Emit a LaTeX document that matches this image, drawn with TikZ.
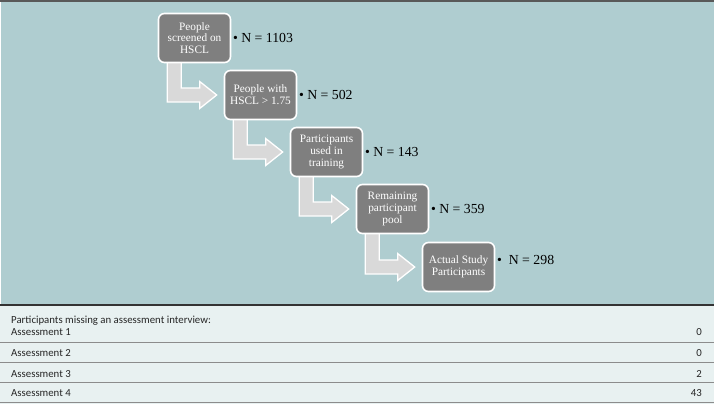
\documentclass[tikz,border=0pt]{standalone}
\usepackage{fontspec}
\setmainfont{Liberation Serif}
\newfontfamily\tablefont{Carlito}
\usetikzlibrary{calc,backgrounds}
\definecolor{tealbg}{HTML}{AFCDD0}
\definecolor{tablebg}{HTML}{E8F1F1}
\definecolor{boxgray}{HTML}{7F7F7F}
\definecolor{arrowgray}{HTML}{D9D9D9}
\definecolor{rulegray}{HTML}{8C8C8C}
\begin{document}
\begin{tikzpicture}[x=1pt,y=-1pt,
  stagebox/.style={draw=white, line width=1.6pt, fill=boxgray, rounded corners=6pt,
    minimum width=72pt, minimum height=49pt, align=center, text=white,
    font=\fontsize{11.3}{11.8}\selectfont, inner sep=0pt},
  nlabel/.style={anchor=west, font=\fontsize{13.8}{15}\selectfont, inner sep=0pt, xshift=1.5pt},
  flowarrow/.style={fill=arrowgray, draw=white, line width=1.3pt, line join=miter},
  rowtext/.style={font=\tablefont\fontsize{10.8}{12}\selectfont, inner sep=0pt, text=black!85},
  tablerule/.style={draw=rulegray, line width=1pt}]
\useasboundingbox (0,0) rectangle (714,404);

% stage boxes
\node[stagebox] (b1) at (194.5,38) {People\\screened on\\HSCL};
\node[stagebox] (b2) at (260.5,95) {People with\\HSCL > 1.75};
\node[stagebox] (b3) at (326.5,152) {Participants\\used in\\training};
\node[stagebox] (b4) at (392.5,209) {Remaining\\participant\\pool};
\node[stagebox] (b5) at (458.5,267) {Actual Study\\Participants};

% counts
\node[nlabel] (n1) at (b1.east) {\textbullet\ N = 1103};
\node[nlabel] (n2) at (b2.east) {\textbullet\ N = 502};
\node[nlabel] (n3) at (b3.east) {\textbullet\ N = 143};
\node[nlabel] (n4) at (b4.east) {\textbullet\ N = 359};
\node[nlabel, yshift=7pt] (n5) at (b5.east) {\textbullet\hspace{7pt}N = 298};

% table text
\node[rowtext, anchor=base west] (hdr) at (11,323.5) {Participants missing an assessment interview:};
\node[rowtext, anchor=base west] (r1) at (11,335.7) {Assessment 1};
\node[rowtext, anchor=base west] (r2) at (11,356.7) {Assessment 2};
\node[rowtext, anchor=base west] (r3) at (11,377.2) {Assessment 3};
\node[rowtext, anchor=base west] (r4) at (11,396.7) {Assessment 4};
\node[rowtext, anchor=base east] (v1) at (702,335.7) {0};
\node[rowtext, anchor=base east] (v2) at (702,356.7) {0};
\node[rowtext, anchor=base east] (v3) at (702,377.2) {2};
\node[rowtext, anchor=base east] (v4) at (702,396.7) {43};

\begin{scope}[on background layer]
  \fill[tealbg] (1,2) rectangle (714,305);
  \fill[tablebg] (0,305) rectangle (714,404);
  \draw[black!65, line width=2pt] (0,1) -- (714,1);
  \draw[black!80, line width=1.4pt] (0,305) -- (714,305);
  \draw[tablerule] (0,342) -- (714,342);
  \draw[tablerule] (0,362.3) -- (714,362.3);
  \draw[tablerule] (0,382.3) -- (714,382.3);
  \draw[tablerule, line width=1.4pt] (0,402.5) -- (714,402.5);
  \foreach \a/\b in {b1/b2,b2/b3,b3/b4,b4/b5} {
    \draw[flowarrow]
      ($(\a.south west)+(9.5,-2)$) --
      ($(\a.south west)+(23.5,-2)$) --
      ($(\a.south west |- \b.west)+(23.5,-7)$) --
      ($(\a.south west |- \b.west)+(42,-7)$) --
      ($(\a.south west |- \b.west)+(42,-13.5)$) --
      ($(\a.south west |- \b.west)+(59,0)$) --
      ($(\a.south west |- \b.west)+(42,13.5)$) --
      ($(\a.south west |- \b.west)+(42,7)$) --
      ($(\a.south west |- \b.west)+(9.5,7)$) -- cycle;
  }
\end{scope}
\end{tikzpicture}
\end{document}
